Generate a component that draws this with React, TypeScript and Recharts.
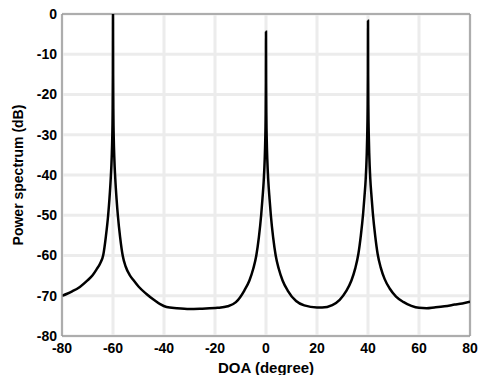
import * as React from "react";
import {
  LineChart, Line, XAxis, YAxis, CartesianGrid, ReferenceLine
} from "recharts";

// MUSIC-style spatial spectrum
const doaDeg = [
  -80, -78, -76, -73, -70, -68, -66.5, -65, -63.8, -62.8, -61.9, -61.4, -60.9,
  -60.5, -60.3, -60.15, -60.05, -60, -59.95, -59.85, -59.7, -59.5, -59.1,
  -58.6, -58.1, -57.2, -56.2, -55, -53.5, -52, -50, -47, -44, -41.5, -39,
  -35, -30, -25, -19, -15, -11.8, -8.5, -6.5, -5, -3.8, -2.8, -1.9, -1.4,
  -0.9, -0.5, -0.3, -0.15, -0.05, 0, 0.05, 0.15, 0.3, 0.5, 0.9, 1.4, 1.9,
  2.8, 3.8, 5, 6.5, 8.5, 11.8, 15, 20, 22, 26, 28.9, 31.5, 33.5, 35, 36.2,
  37.2, 38.1, 38.6, 39.1, 39.5, 39.7, 39.85, 39.95, 40, 40.05, 40.15, 40.3,
  40.5, 40.9, 41.4, 41.9, 42.8, 43.8, 45, 46.5, 48.5, 51, 54, 57, 60, 63, 66,
  70, 74, 77, 80,
];

const powerDb = [
  -70.0, -69.5, -68.9, -67.8, -66.2, -64.9, -63.5, -61.9, -59.8, -55.3, -50,
  -46, -41, -35.5, -31, -25, -15, 0, -15, -25, -31, -35.5, -41, -46, -50,
  -55.5, -60, -62.8, -64.8, -66.1, -67.7, -69.5, -71.0, -72.1, -72.8, -73.1,
  -73.3, -73.2, -73.0, -72.6, -71.6, -68.7, -66.2, -63.3, -60, -55.5, -50,
  -46, -41.5, -36, -31.5, -26, -17, -4.4, -17, -26, -31.5, -36, -41.5, -46,
  -50, -55.5, -60, -63.3, -66.2, -68.7, -71.3, -72.4, -72.9, -72.9, -72.3,
  -71.0, -68.8, -66.2, -63.2, -59.7, -55, -49.5, -45.5, -41, -35, -30, -24,
  -15, -1.7, -15, -24, -30, -35, -41, -45.5, -49.5, -55, -59.7, -63, -65.8,
  -68.2, -70.2, -71.6, -72.5, -73.0, -73.1, -72.9, -72.6, -72.2, -71.9, -71.5,
];

const xTicks = [-80, -60, -40, -20, 0, 20, 40, 60, 80];
const yTicks = [-80, -70, -60, -50, -40, -30, -20, -10, 0];

const data = doaDeg.map((d, i) => ({ doa: d, power: powerDb[i] }));

const font = "'Liberation Sans', Arial, sans-serif";
const tickStyle = { fill: "#000", fontSize: 14, fontWeight: 700, fontFamily: font };

export default function App() {
  return (
    <div style={{ position: "absolute", left: 0, top: 0, background: "#fff" }}>
      <LineChart width={479} height={375} data={data}
        margin={{ top: 14, right: 9, bottom: 0, left: 0 }}>
        <CartesianGrid stroke="#ececec" strokeWidth={3}
          horizontalValues={yTicks} verticalValues={xTicks} />
        <XAxis dataKey="doa" type="number" domain={[-80, 80]} ticks={xTicks}
          allowDataOverflow height={39} tickLine={false} tickSize={6} tickMargin={1}
          axisLine={{ stroke: "#999", strokeWidth: 1.5 }} tick={tickStyle}
          label={{ value: "DOA (degree)", position: "insideBottom", offset: 2,
            style: { ...tickStyle, fontSize: 15 } }} />
        <YAxis type="number" domain={[-80, 0]} ticks={yTicks} allowDataOverflow
          width={62} tickLine={false} tickSize={4} tickMargin={1}
          axisLine={{ stroke: "#999", strokeWidth: 1.5 }} tick={tickStyle}
          label={{ value: "Power spectrum (dB)", angle: -90, position: "insideLeft",
            offset: 18, style: { ...tickStyle, textAnchor: "middle" } }} />
        <ReferenceLine y={0} stroke="#999" strokeWidth={1.5} />
        <ReferenceLine x={80} stroke="#999" strokeWidth={1.5} />
        <Line type="monotone" dataKey="power" stroke="#000" strokeWidth={2.5}
          dot={false} isAnimationActive={false} />
      </LineChart>
    </div>
  );
}
